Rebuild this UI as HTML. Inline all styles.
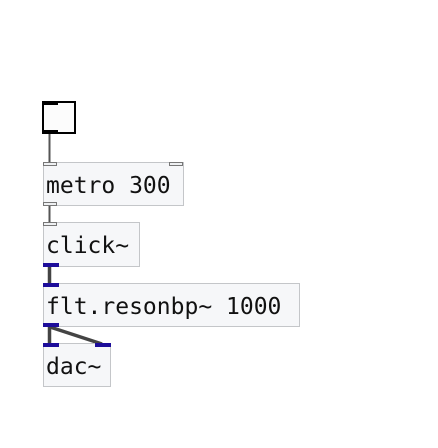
<!DOCTYPE html>
<html><head><style>
body{margin:0;width:438px;height:448px;background:#fff;position:relative;overflow:hidden;font-family:"DejaVu Sans Mono","Liberation Mono",monospace}
.o{position:absolute;background:#f6f7f9;border:1px solid #c4c6c9;box-sizing:border-box;font-size:23px;line-height:24px;color:#111;padding:11px 0 0 2px;white-space:pre}
.p{position:absolute;width:14px;height:4px;box-sizing:border-box}
.c{background:#eef0f2;border:1px solid #777}
.s{background:#1d0d9a}
.k{background:#000}
</style></head><body>
<svg width="438" height="448" style="position:absolute;left:0;top:0">
<line x1="49.5" y1="134" x2="49.5" y2="163" stroke="#555" stroke-width="2"/>
<line x1="49.5" y1="205" x2="49.5" y2="223" stroke="#555" stroke-width="2"/>
<line x1="49.5" y1="266" x2="49.5" y2="284" stroke="#444" stroke-width="3.5"/>
<line x1="49.5" y1="327" x2="49.5" y2="344" stroke="#444" stroke-width="3.5"/>
<line x1="50" y1="327" x2="102" y2="344" stroke="#444" stroke-width="3.5"/>
</svg>
<div style="position:absolute;left:42px;top:101px;width:34px;height:33px;border:2px solid #000;box-sizing:border-box;background:#fcfcfc"></div>
<div class="p k" style="left:42px;top:101px;width:16px"></div>
<div class="p k" style="left:42px;top:130px;width:16px"></div>

<div class="o" style="left:43px;top:162px;width:141px;height:44px">metro 300</div>
<div class="p c" style="left:43px;top:162px"></div>
<div class="p c" style="left:169px;top:162px"></div>
<div class="p c" style="left:43px;top:202px"></div>

<div class="o" style="left:43px;top:222px;width:97px;height:45px">click~</div>
<div class="p c" style="left:43px;top:222px"></div>
<div class="p s" style="left:43px;top:263px;width:16px"></div>

<div class="o" style="left:43px;top:283px;width:257px;height:44px">flt.resonbp~ 1000</div>
<div class="p s" style="left:43px;top:283px;width:16px"></div>
<div class="p s" style="left:43px;top:323px;width:16px"></div>

<div class="o" style="left:43px;top:343px;width:68px;height:44px">dac~</div>
<div class="p s" style="left:43px;top:343px;width:16px"></div>
<div class="p s" style="left:95px;top:343px;width:16px"></div>
</body></html>
